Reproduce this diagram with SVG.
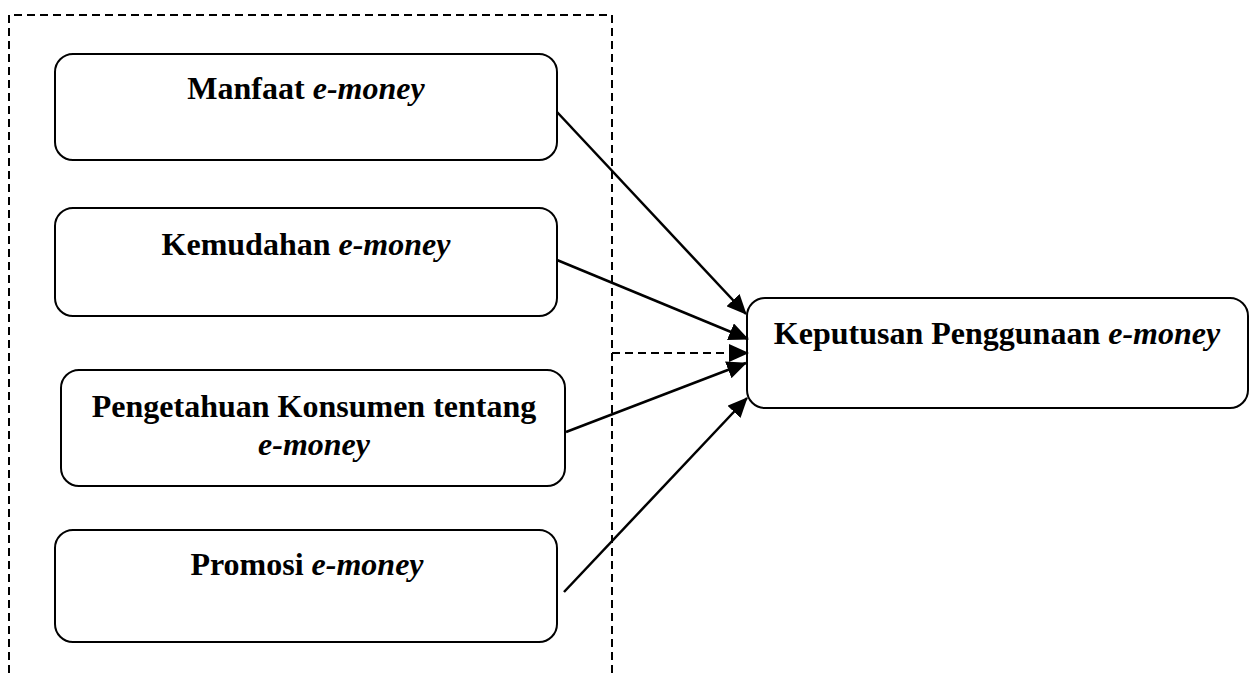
<svg xmlns="http://www.w3.org/2000/svg" width="1254" height="673" viewBox="0 0 1254 673">
<style>
.box{fill:#fff;stroke:#000;stroke-width:2}
.t{font-family:"Liberation Serif",serif;font-weight:bold;font-size:32px;fill:#000;text-anchor:middle}
.i{font-style:italic}
.c{stroke:#000;stroke-width:2.5;fill:none}
.d{stroke:#000;stroke-width:2;fill:none;stroke-dasharray:8,5}
</style>
<defs>
<marker id="ahl" markerWidth="20" markerHeight="18" refX="19" refY="9" orient="auto" markerUnits="userSpaceOnUse" viewBox="0 0 20 18">
<path d="M0,0 L20,9 L0,18 z" fill="#000"/>
</marker>
</defs>
<g id="frame">
<path class="d" d="M9,673 L9,15 L612,15 L612,673"/>
</g>
<g id="n1">
<rect class="box" x="55" y="54" width="502" height="106" rx="18"/>
<text class="t" x="306" y="99">Manfaat <tspan class="i">e-money</tspan></text>
</g>
<g id="n2">
<rect class="box" x="55" y="208" width="502" height="108" rx="18"/>
<text class="t" x="306" y="255">Kemudahan <tspan class="i">e-money</tspan></text>
</g>
<g id="n3">
<rect class="box" x="61" y="370" width="504" height="116" rx="18"/>
<text class="t" x="314" y="417">Pengetahuan Konsumen tentang</text>
<text class="t i" x="314" y="455">e-money</text>
</g>
<g id="n4">
<rect class="box" x="55" y="530" width="502" height="112" rx="18"/>
<text class="t" x="307" y="575">Promosi <tspan class="i">e-money</tspan></text>
</g>
<g id="target">
<rect class="box" x="747" y="298" width="501" height="110" rx="18"/>
<text class="t" x="997" y="344">Keputusan Penggunaan <tspan class="i">e-money</tspan></text>
</g>
<g id="connectors">
<line class="c" x1="557" y1="112" x2="746" y2="314" marker-end="url(#ahl)"/>
<line class="c" x1="557" y1="260" x2="748" y2="339" marker-end="url(#ahl)"/>
<line class="c" x1="566" y1="432" x2="746" y2="363" marker-end="url(#ahl)"/>
<line class="c" x1="564" y1="592" x2="747" y2="398" marker-end="url(#ahl)"/>
<path class="d" d="M612,353 L748,353" marker-end="url(#ahl)"/>
</g>
</svg>
